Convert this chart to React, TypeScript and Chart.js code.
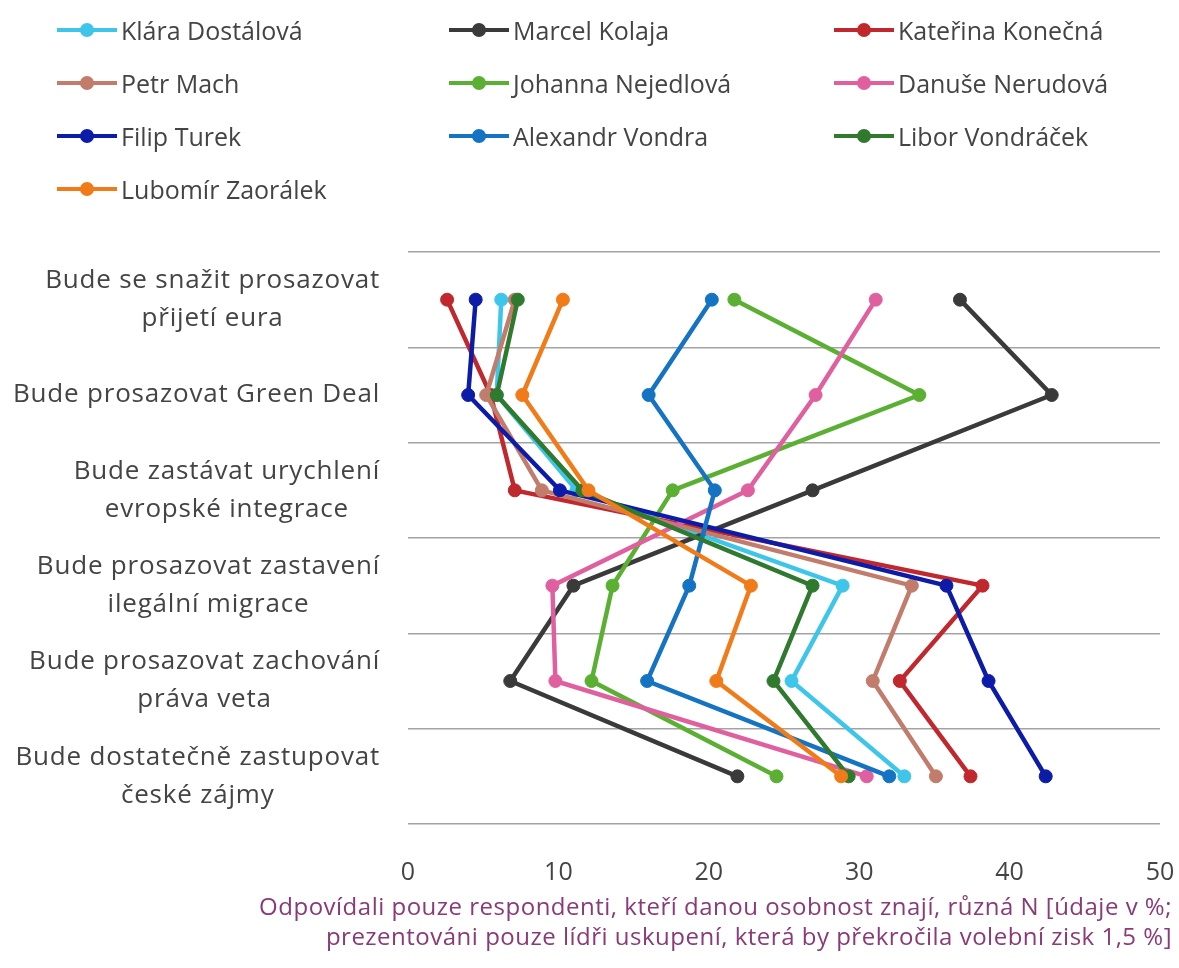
import React, { useEffect, useRef } from 'react';
import { Chart, registerables } from 'chart.js';

Chart.register(...registerables);

const categories: string[][] = [
  ['Bude se snažit prosazovat', 'přijetí eura'],
  ['Bude prosazovat Green Deal'],
  ['Bude zastávat urychlení', 'evropské integrace'],
  ['Bude prosazovat zastavení', 'ilegální migrace'],
  ['Bude prosazovat zachování', 'práva veta'],
  ['Bude dostatečně zastupovat', 'české zájmy'],
];

const seriesNames = [
  'Klára Dostálová',
  'Marcel Kolaja',
  'Kateřina Konečná',
  'Petr Mach',
  'Johanna Nejedlová',
  'Danuše Nerudová',
  'Filip Turek',
  'Alexandr Vondra',
  'Libor Vondráček',
  'Lubomír Zaorálek',
];

const dostalova = [6.2, 5.9, 11.2, 28.9, 25.5, 33.0];
const kolaja = [36.7, 42.8, 26.9, 11.0, 6.8, 21.9];
const konecna = [2.6, 5.5, 7.1, 38.2, 32.7, 37.4];
const mach = [7.1, 5.2, 8.9, 33.5, 30.9, 35.1];
const nejedlova = [21.7, 34.0, 17.6, 13.6, 12.2, 24.5];
const nerudova = [31.1, 27.1, 22.6, 9.6, 9.8, 30.5];
const turek = [4.5, 4.0, 10.1, 35.8, 38.6, 42.4];
const vondra = [20.2, 16.0, 20.4, 18.7, 15.9, 32.0];
const vondracek = [7.3, 5.9, 11.6, 26.9, 24.3, 29.3];
const zaoralek = [10.3, 7.6, 12.0, 22.8, 20.5, 28.8];

const seriesValues = [dostalova, kolaja, konecna, mach, nejedlova, nerudova, turek, vondra, vondracek, zaoralek];

const seriesColors = [
  '#3ec6ea',
  '#3a3a3a',
  '#c0282e',
  '#c27c6c',
  '#5bb033',
  '#e0609f',
  '#0c1ca8',
  '#1573c3',
  '#2f7a2f',
  '#f07b18',
];

const xTicks = [0, 10, 20, 30, 40, 50];

const footnote = [
  'Odpovídali pouze respondenti, kteří danou osobnost znají, různá N [údaje v %;',
  'prezentováni pouze lídři uskupení, která by překročila volební zisk 1,5 %]',
];

const FONT = '"Open Sans", "Noto Sans", sans-serif';
const TEXT = '#444444';

const yLabelPlugin = {
  id: 'yLabelPlugin',
  afterDraw(chart: any) {
    const ctx = chart.ctx;
    const yScale = chart.scales.y;
    ctx.save();
    ctx.font = `26px ${FONT}`;
    try {
      (ctx as any).letterSpacing = '0.8px';
    } catch (e) {}
    ctx.fillStyle = TEXT;
    ctx.textAlign = 'center';
    ctx.textBaseline = 'middle';
    const right = 380;
    categories.forEach((lines, i) => {
      const cy = yScale.getPixelForTick(i);
      const maxW = Math.max(...lines.map((l) => ctx.measureText(l).width));
      const cx = right - maxW / 2;
      lines.forEach((l, j) => {
        ctx.fillText(l, cx, cy + (j - (lines.length - 1) / 2) * 38);
      });
    });
    ctx.restore();
  },
};

export default function App() {
  const canvasRef = useRef<HTMLCanvasElement | null>(null);

  useEffect(() => {
    if (!canvasRef.current) return;
    const chart = new Chart(canvasRef.current, {
      type: 'line',
      data: {
        labels: categories,
        datasets: seriesNames.map((name, i) => ({
          label: name,
          data: seriesValues[i],
          borderColor: seriesColors[i],
          backgroundColor: seriesColors[i],
          pointBackgroundColor: seriesColors[i],
          pointBorderColor: seriesColors[i],
          borderWidth: 4.5,
          pointRadius: 6.5,
          pointBorderWidth: 1,
          tension: 0,
          fill: false,
          order: seriesNames.length - i,
        })),
      },
      options: {
        indexAxis: 'y',
        animation: false,
        responsive: false,
        maintainAspectRatio: false,
        layout: { padding: { top: 252, right: 19, bottom: 84, left: 0 } },
        plugins: {
          legend: { display: false },
          tooltip: { enabled: false },
          title: { display: false },
        },
        scales: {
          x: {
            type: 'linear',
            min: xTicks[0],
            max: xTicks[xTicks.length - 1],
            afterBuildTicks: (s: any) => {
              s.ticks = xTicks.map((v) => ({ value: v }));
            },
            afterFit: (s: any) => {
              s.height = 60;
              s.paddingLeft = 0;
              s.paddingRight = 0;
            },
            grid: { display: false, drawTicks: false },
            border: { display: false },
            ticks: {
              padding: 34,
              color: TEXT,
              font: { family: FONT, size: 25 },
            },
          },
          y: {
            type: 'category',
            offset: true,
            afterFit: (s: any) => {
              s.width = 408;
            },
            grid: {
              offset: true,
              color: '#a3a3a3',
              lineWidth: 1.5,
              drawTicks: false,
            },
            border: { display: false },
            ticks: { display: false },
          },
        },
      },
      plugins: [yLabelPlugin],
    } as any);
    return () => chart.destroy();
  }, []);

  return (
    <div style={{ position: 'absolute', left: 0, top: 0, width: 1179, height: 968, background: '#fff', fontFamily: FONT }}>
      <canvas ref={canvasRef} width={1179} height={968} style={{ position: 'absolute', left: 0, top: 0, width: 1179, height: 968 }} />
      {seriesNames.map((name, i) => {
        const col = i % 3;
        const row = Math.floor(i / 3);
        const left = [57, 449, 834][col];
        const cy = 30 + row * 53;
        return (
          <div key={name} style={{ position: 'absolute', left, top: cy - 18, height: 36, display: 'flex', alignItems: 'center', whiteSpace: 'nowrap' }}>
            <div style={{ position: 'relative', width: 60, height: 36, marginRight: 4 }}>
              <div style={{ position: 'absolute', left: 0, width: 60, top: 16, height: 4, background: seriesColors[i] }} />
              <div style={{ position: 'absolute', left: 23, top: 11, width: 14, height: 14, borderRadius: 7, background: seriesColors[i] }} />
            </div>
            <span style={{ fontSize: 25, color: TEXT, lineHeight: '36px' }}>{name}</span>
          </div>
        );
      })}
      <div style={{ position: 'absolute', right: 7, top: 891, textAlign: 'right', fontSize: 24, letterSpacing: '0.5px', lineHeight: '30px', color: '#8a3a78', whiteSpace: 'nowrap' }}>
        {footnote.map((l) => (
          <div key={l}>{l}</div>
        ))}
      </div>
    </div>
  );
}
